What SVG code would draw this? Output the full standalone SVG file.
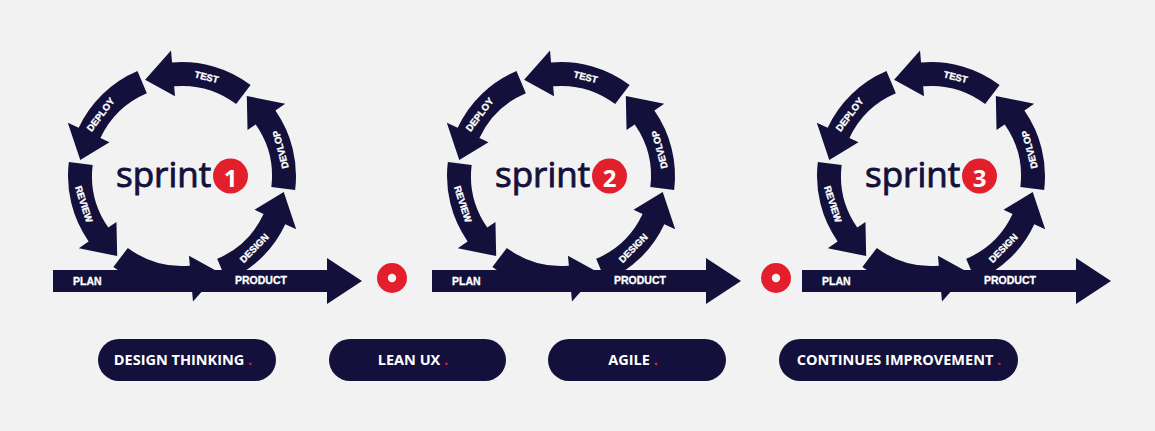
<svg xmlns="http://www.w3.org/2000/svg" xmlns:xlink="http://www.w3.org/1999/xlink" width="1155" height="431" viewBox="0 0 1155 431">
  <style>
    .navy { fill: #13113c; }
    .red { fill: #e21f2b; }
    .lbl { font-family: "Liberation Sans", Arial, sans-serif; font-weight: bold; font-size: 9.5px; fill: #ffffff; stroke: #ffffff; stroke-width: 0.35; text-anchor: middle; }
    .bar { font-family: "Liberation Sans", Arial, sans-serif; font-weight: bold; font-size: 10.5px; fill: #ffffff; stroke: #ffffff; stroke-width: 0.3; }
    .sprint { font-family: "Open Sans", "Liberation Sans", sans-serif; font-weight: normal; font-size: 35px; fill: #13113c; stroke: #13113c; stroke-width: 0.9; }
    .num { font-family: "Open Sans", "Liberation Sans", sans-serif; font-weight: bold; font-size: 24px; fill: #ffffff; text-anchor: middle; }
    .pill { font-family: "Open Sans", "Liberation Sans", sans-serif; font-weight: bold; font-size: 14.5px; fill: #ffffff; text-anchor: middle; }
  </style>
  <defs>
    <path id="seg" class="navy" d="M114,0 L90,0 A90,90 0 0 0 66.88,-60.22 L59.45,-53.53 L54.58,-87.35 L93.64,-84.31 L84.72,-76.28 A114,114 0 0 1 114,0 Z"/>
    <path id="barArrow" class="navy" d="M-129,94 H145 V82 L180,105 L145,128 V116 H-129 Z"/>
  </defs>
  <rect width="1155" height="431" fill="#f2f2f2"/>

  <g id="sprint1" transform="translate(182,176)">
    <use xlink:href="#barArrow"/>
    <use xlink:href="#seg" transform="rotate(7)"/>
    <use xlink:href="#seg" transform="rotate(-53)"/>
    <use xlink:href="#seg" transform="rotate(-113)"/>
    <use xlink:href="#seg" transform="rotate(-173)"/>
    <use xlink:href="#seg" transform="rotate(127)"/>
    <use xlink:href="#seg" transform="rotate(67)"/>
    <text class="lbl" transform="translate(24.7,-99) rotate(14)" dy="3.4">TEST</text>
    <text class="lbl" transform="translate(-81.5,-61.4) rotate(-53)" dy="3.4">DEPLOY</text>
    <text class="lbl" transform="translate(-98,28.1) rotate(72)" dy="3.4">REVIEW</text>
    <text class="lbl" transform="translate(72.1,72.1) rotate(-45)" dy="3.4">DESIGN</text>
    <text class="lbl" transform="translate(98.5,-26.4) rotate(-105)" dy="3.4">DEVLOP</text>
    <text class="bar" x="-109" y="109">PLAN</text>
    <text class="bar" x="53" y="108">PRODUCT</text>
    <text class="sprint" x="-66" y="11">sprint</text>
    <circle class="red" cx="48.5" cy="0" r="17.5"/>
    <text class="num" x="48.5" y="11">1</text>
  </g>

  <g id="sprint2" transform="translate(561,176)">
    <use xlink:href="#barArrow"/>
    <use xlink:href="#seg" transform="rotate(7)"/>
    <use xlink:href="#seg" transform="rotate(-53)"/>
    <use xlink:href="#seg" transform="rotate(-113)"/>
    <use xlink:href="#seg" transform="rotate(-173)"/>
    <use xlink:href="#seg" transform="rotate(127)"/>
    <use xlink:href="#seg" transform="rotate(67)"/>
    <text class="lbl" transform="translate(24.7,-99) rotate(14)" dy="3.4">TEST</text>
    <text class="lbl" transform="translate(-81.5,-61.4) rotate(-53)" dy="3.4">DEPLOY</text>
    <text class="lbl" transform="translate(-98,28.1) rotate(72)" dy="3.4">REVIEW</text>
    <text class="lbl" transform="translate(72.1,72.1) rotate(-45)" dy="3.4">DESIGN</text>
    <text class="lbl" transform="translate(98.5,-26.4) rotate(-105)" dy="3.4">DEVLOP</text>
    <text class="bar" x="-109" y="109">PLAN</text>
    <text class="bar" x="53" y="108">PRODUCT</text>
    <text class="sprint" x="-66" y="11">sprint</text>
    <circle class="red" cx="48.5" cy="0" r="17.5"/>
    <text class="num" x="48.5" y="11">2</text>
  </g>

  <g id="sprint3" transform="translate(931,176)">
    <use xlink:href="#barArrow"/>
    <use xlink:href="#seg" transform="rotate(7)"/>
    <use xlink:href="#seg" transform="rotate(-53)"/>
    <use xlink:href="#seg" transform="rotate(-113)"/>
    <use xlink:href="#seg" transform="rotate(-173)"/>
    <use xlink:href="#seg" transform="rotate(127)"/>
    <use xlink:href="#seg" transform="rotate(67)"/>
    <text class="lbl" transform="translate(24.7,-99) rotate(14)" dy="3.4">TEST</text>
    <text class="lbl" transform="translate(-81.5,-61.4) rotate(-53)" dy="3.4">DEPLOY</text>
    <text class="lbl" transform="translate(-98,28.1) rotate(72)" dy="3.4">REVIEW</text>
    <text class="lbl" transform="translate(72.1,72.1) rotate(-45)" dy="3.4">DESIGN</text>
    <text class="lbl" transform="translate(98.5,-26.4) rotate(-105)" dy="3.4">DEVLOP</text>
    <text class="bar" x="-109" y="109">PLAN</text>
    <text class="bar" x="53" y="108">PRODUCT</text>
    <text class="sprint" x="-66" y="11">sprint</text>
    <circle class="red" cx="48.5" cy="0" r="17.5"/>
    <text class="num" x="48.5" y="11">3</text>
  </g>

  <g id="dot1">
    <circle class="red" cx="392" cy="278" r="15"/>
    <circle cx="392" cy="278" r="4.2" fill="#f2f2f2"/>
  </g>
  <g id="dot2">
    <circle class="red" cx="776" cy="278" r="15"/>
    <circle cx="776" cy="278" r="4.2" fill="#f2f2f2"/>
  </g>

  <g id="pill-design-thinking">
    <rect class="navy" x="98" y="339" width="178" height="42" rx="21"/>
    <text class="pill" x="183" y="365">DESIGN THINKING <tspan class="red">.</tspan></text>
  </g>
  <g id="pill-lean-ux">
    <rect class="navy" x="329" y="339" width="177" height="42" rx="21"/>
    <text class="pill" x="413" y="365">LEAN UX <tspan class="red">.</tspan></text>
  </g>
  <g id="pill-agile">
    <rect class="navy" x="548" y="339" width="178" height="42" rx="21"/>
    <text class="pill" x="633" y="365">AGILE <tspan class="red">.</tspan></text>
  </g>
  <g id="pill-continues-improvement">
    <rect class="navy" x="779" y="339" width="239" height="42" rx="21"/>
    <text class="pill" x="899" y="365">CONTINUES IMPROVEMENT <tspan class="red">.</tspan></text>
  </g>

  <g id="connectors"/>
</svg>
